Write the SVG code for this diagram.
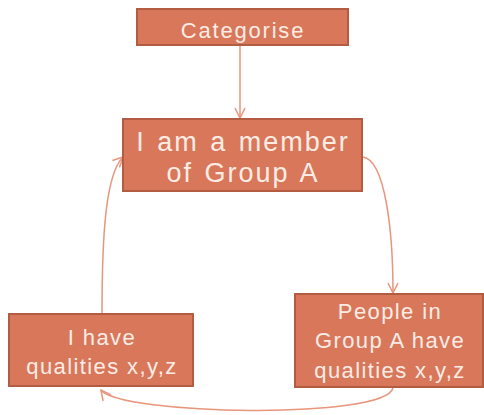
<svg xmlns="http://www.w3.org/2000/svg" width="484" height="415" viewBox="0 0 484 415">
<style>
.box{fill:#D9775A;stroke:#B45C42;stroke-width:2}
.t{font-family:"Liberation Sans",Arial,sans-serif;fill:#FBEDE6;text-anchor:middle;font-size:22px;letter-spacing:1.4px}
.big{font-size:27px;letter-spacing:2px;word-spacing:2px}
.c{fill:none;stroke:#E8957C;stroke-width:1.5}
</style>
<defs>
<marker id="ah" viewBox="0 0 12 12" refX="11" refY="6" markerWidth="12" markerHeight="12" markerUnits="userSpaceOnUse" orient="auto">
<path d="M1,1 L11,6 L1,11" fill="none" stroke="#E8957C" stroke-width="1.5"/>
</marker>
</defs>
<g id="connectors">
<path class="c" d="M240,46 L240,118" marker-end="url(#ah)"/>
<path class="c" d="M363,157 C385,160 393,230 393,293" marker-end="url(#ah)"/>
<path class="c" d="M102,314 C102,240 105,175 123,157" marker-end="url(#ah)"/>
<path class="c" d="M393,388 C385,420 120,415 101,390" marker-end="url(#ah)"/>
</g>
<g id="categorise">
<rect class="box" x="137" y="9" width="211" height="36"/>
<text class="t" x="243" y="38" style="letter-spacing:1.8px">Categorise</text>
</g>
<g id="member">
<rect class="box" x="123" y="119" width="239" height="72"/>
<text class="t big" x="243" y="151">I am a member</text>
<text class="t big" x="243" y="182">of Group A</text>
</g>
<g id="ihave">
<rect class="box" x="9" y="314" width="184" height="72"/>
<text class="t" x="102" y="345">I have</text>
<text class="t" x="102" y="374">qualities x,y,z</text>
</g>
<g id="people">
<rect class="box" x="295" y="294" width="188" height="93"/>
<text class="t" x="390" y="319">People in</text>
<text class="t" x="390" y="348">Group A have</text>
<text class="t" x="390" y="378">qualities x,y,z</text>
</g>
</svg>
